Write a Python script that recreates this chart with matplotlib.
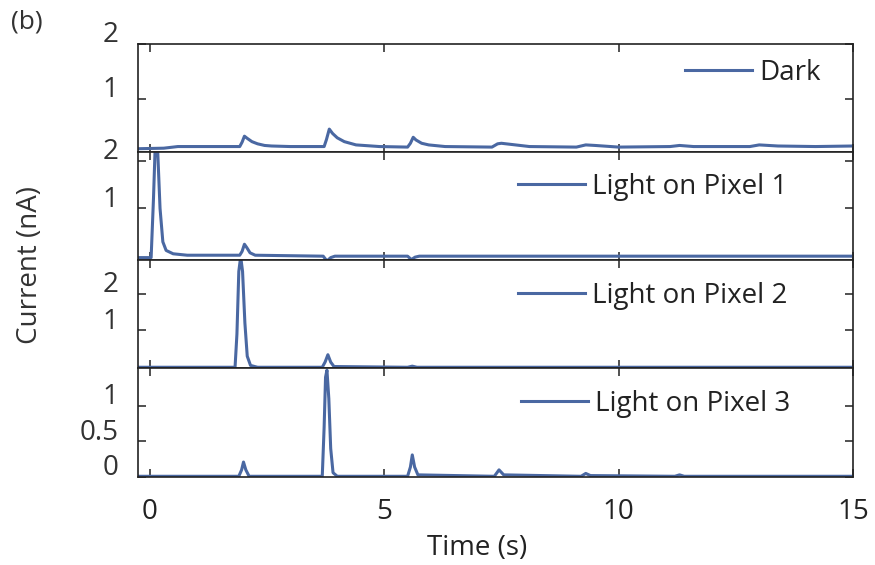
import matplotlib
matplotlib.use("Agg")
import matplotlib.pyplot as plt
from matplotlib.transforms import blended_transform_factory

plt.rcParams['font.family'] = ['Open Sans', 'DejaVu Sans']

# ---- data: current traces (nA) vs time (s), one per panel ----
dark_t = [-0.25, 0.3, 0.6, 1.92, 1.97, 2.02, 2.08, 2.18, 2.3, 2.45, 2.6, 3.0, 3.72, 3.77,
          3.83, 3.9, 4.0, 4.15, 4.4, 4.9, 5.5, 5.56, 5.62, 5.68, 5.8, 5.95, 6.3, 7.3, 7.42,
          7.5, 7.7, 8.1, 9.1, 9.3, 9.5, 10.0, 11.1, 11.3, 11.6, 12.8, 13.0, 13.4, 14.2, 15.0]
dark_i = [0.08, 0.09, 0.12, 0.12, 0.2, 0.31, 0.27, 0.21, 0.17, 0.14, 0.13, 0.12, 0.12, 0.25,
          0.44, 0.36, 0.28, 0.21, 0.15, 0.12, 0.11, 0.18, 0.29, 0.24, 0.18, 0.15, 0.12, 0.11,
          0.17, 0.18, 0.16, 0.12, 0.11, 0.15, 0.14, 0.11, 0.12, 0.14, 0.12, 0.12, 0.15, 0.13,
          0.12, 0.13]

pix1_t = [-0.25, 0.03, 0.08, 0.12, 0.17, 0.22, 0.28, 0.35, 0.5, 0.8, 1.92, 1.97, 2.02, 2.07,
          2.14, 2.25, 3.7, 3.78, 3.86, 3.95, 5.5, 5.58, 5.66, 5.75, 15.0]
pix1_i = [-0.03, -0.03, 1.2, 2.4, 2.2, 1.0, 0.3, 0.12, 0.05, 0.02, 0.02, 0.1, 0.25, 0.18,
          0.07, 0.02, 0.0, -0.1, -0.03, 0.0, 0.0, -0.07, -0.02, 0.0, 0.0]

pix2_t = [-0.25, 1.82, 1.86, 1.9, 1.94, 1.98, 2.03, 2.08, 2.15, 2.3, 3.68, 3.74, 3.8, 3.86,
          3.93, 5.5, 5.6, 5.7, 15.0]
pix2_i = [0.0, 0.0, 0.9, 2.6, 3.0, 2.6, 1.2, 0.3, 0.05, 0.0, 0.0, 0.14, 0.34, 0.14, 0.02,
          0.0, 0.03, 0.0, 0.0]

pix3_t = [-0.25, 1.9, 1.96, 2.0, 2.05, 2.12, 3.68, 3.72, 3.75, 3.78, 3.82, 3.86, 3.91, 4.0,
          5.5, 5.56, 5.6, 5.65, 5.72, 7.35, 7.45, 7.55, 9.2, 9.3, 9.4, 11.2, 11.3, 11.4, 15.0]
pix3_i = [0.01, 0.01, 0.1, 0.21, 0.1, 0.01, 0.01, 0.7, 1.4, 1.5, 1.1, 0.4, 0.06, 0.01,
          0.01, 0.14, 0.31, 0.14, 0.03, 0.01, 0.1, 0.03, 0.01, 0.05, 0.02, 0.01, 0.03, 0.01,
          0.01]

labels = ["Dark", "Light on Pixel 1", "Light on Pixel 2", "Light on Pixel 3"]
series = [(dark_t, dark_i), (pix1_t, pix1_i), (pix2_t, pix2_i), (pix3_t, pix3_i)]
ylims = [(0.02, 2.0), (-0.08, 2.18), (-0.02, 2.91), (0.0, 1.53)]
yticks = [[1, 2], [1, 2], [1, 2], [0, 0.5, 1]]
ytick_labels = [["1", "2"], ["1", "2"], ["1", "2"], ["0", "0.5", "1"]]
xticks = [0, 5, 10, 15]

# legend anchor (right edge, vertical centre) in axes fraction
legend_anchor = [(0.955, 0.734), (0.908, 0.68), (0.908, 0.668), (0.912, 0.673)]

color = '#4a68a2'
FS = 20

W, H = 875, 565
fig = plt.figure(figsize=(W / 100, H / 100), dpi=100)

left_px, right_px = 138, 853
edges_px = [44, 152, 260, 368, 477]

axes = []
for k in range(4):
    top, bot = edges_px[k], edges_px[k + 1]
    ax = fig.add_axes([left_px / W, 1 - bot / H, (right_px - left_px) / W, (bot - top) / H])
    t, i = series[k]
    ax.plot(t, i, color=color, lw=2.2, label=labels[k], solid_joinstyle='round')
    ax.set_xlim(-0.25, 15)
    ax.set_ylim(*ylims[k])
    ax.set_xticks(xticks)
    ax.set_yticks(yticks[k])
    ax.tick_params(direction='in', length=6, width=1.1, top=True, right=True,
                   labelleft=False, labelbottom=(k == 3), labelsize=FS, pad=15,
                   colors='#222222')
    for sp in ax.spines.values():
        sp.set_linewidth(1.2)
        sp.set_color('#222222')
    # y tick labels, drawn slightly above their tick marks
    trans = blended_transform_factory(ax.transAxes, ax.transData)
    for val, lab in zip(yticks[k], ytick_labels[k]):
        ax.annotate(lab, xy=(0, val), xycoords=trans, xytext=(-14, 6.2),
                    textcoords='offset points', ha='right', va='center',
                    fontsize=FS, color='#333333', annotation_clip=False)
    ax.legend(loc='center right', bbox_to_anchor=legend_anchor[k], frameon=False,
              fontsize=FS, handlelength=2.4, handletextpad=0.26, borderpad=0,
              borderaxespad=0, labelcolor='#222222')
    axes.append(ax)

fig.text(477 / W, 1 - 548 / H, "Time (s)", ha='center', va='center',
         fontsize=FS, color='#222222')
fig.text(30 / W, 1 - 265 / H, "Current (nA)", rotation=90, ha='center', va='center',
         fontsize=FS, color='#333333')
fig.text(27 / W, 1 - 22 / H, "(b)", ha='center', va='center', fontsize=19, color='#333333')

fig.savefig("out.png", dpi=100)
